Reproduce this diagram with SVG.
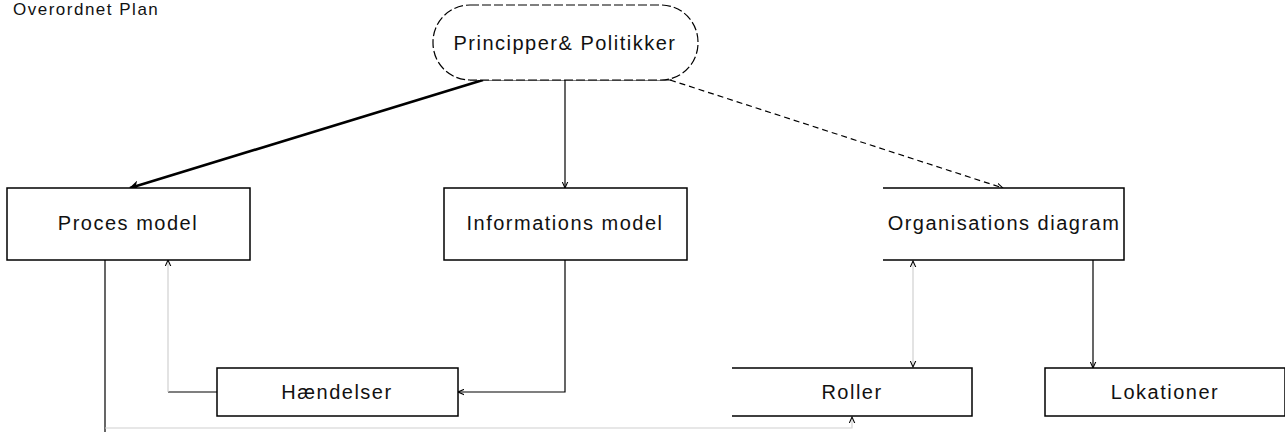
<svg xmlns="http://www.w3.org/2000/svg" width="1285" height="432" viewBox="0 0 1285 432">
  <style>
    .box { fill: #ffffff; stroke: #000000; stroke-width: 1.5; }
    .label { font-family: "Liberation Sans", Arial, sans-serif; font-size: 20px; letter-spacing: 1.5px; fill: #111111; text-anchor: middle; }
    .title { font-family: "Liberation Sans", Arial, sans-serif; font-size: 17px; letter-spacing: 1.5px; fill: #111111; }
    .edge { fill: none; stroke: #000000; stroke-width: 1.2; }
    .bold { fill: none; stroke: #000000; stroke-width: 2.6; }
    .faint { fill: none; stroke: #d0d0d0; stroke-width: 1.2; }
  </style>
  <defs>
    <marker id="arrow" viewBox="0 0 10 10" refX="9" refY="5" markerWidth="7" markerHeight="7" orient="auto-start-reverse" markerUnits="userSpaceOnUse">
      <path d="M0,1 L9,5 L0,9" fill="none" stroke="#000" stroke-width="1.5"/>
    </marker>
    <marker id="arrowBold" viewBox="0 0 10 10" refX="9" refY="5" markerWidth="10" markerHeight="10" orient="auto" markerUnits="userSpaceOnUse">
      <path d="M0,0 L10,5 L0,10 L3,5 Z" fill="#000"/>
    </marker>
  </defs>
  <rect width="1285" height="432" fill="#ffffff"/>

  <text class="title" x="13" y="15">Overordnet Plan</text>

  <g id="connectors">
    <!-- principles to process model (bold) -->
    <path class="bold" d="M483,80 L130,188" marker-end="url(#arrowBold)"/>
    <!-- principles to information model -->
    <path class="edge" d="M565,80 L565,188" marker-end="url(#arrow)"/>
    <!-- principles to organisation diagram (dashed) -->
    <path class="edge" d="M670,80 L1003,188" stroke-dasharray="6,4" marker-end="url(#arrow)"/>
    <!-- base line under stadium -->
    <path class="edge" d="M470,80 L672,80"/>
    <!-- information model to events -->
    <path class="edge" d="M565,260 L565,392 L458,392" marker-end="url(#arrow)"/>
    <!-- events to process model -->
    <path class="edge" d="M217,392 L168,392"/>
    <path class="faint" d="M168,392 L168,260" marker-end="url(#arrow)"/>
    <!-- process model down and across to roles -->
    <path class="edge" d="M105,260 L105,432"/>
    <path class="faint" d="M105,428 L852,428 L852,417" marker-end="url(#arrow)"/>
    <!-- organisation diagram to roles (two-way) -->
    <path class="faint" d="M913,261 L913,367" marker-start="url(#arrow)" marker-end="url(#arrow)"/>
    <!-- organisation diagram to locations -->
    <path class="edge" d="M1093,260 L1093,368" marker-end="url(#arrow)"/>
  </g>

  <g id="principper">
    <rect x="433" y="5" width="265" height="75" rx="37" ry="37" fill="#ffffff" stroke="#000" stroke-width="1.2" stroke-dasharray="9,3"/>
    <text class="label" x="565" y="50">Principper&amp; Politikker</text>
  </g>

  <g id="procesmodel">
    <rect class="box" x="7" y="188" width="243" height="72"/>
    <text class="label" x="128" y="230">Proces model</text>
  </g>

  <g id="informationsmodel">
    <rect class="box" x="444" y="188" width="243" height="72"/>
    <text class="label" x="565" y="230">Informations model</text>
  </g>

  <g id="organisationsdiagram">
    <path class="box" d="M883,188 L1124,188 L1124,260 L883,260"/>
    <text class="label" x="1004" y="230">Organisations diagram</text>
  </g>

  <g id="haendelser">
    <rect class="box" x="217" y="368" width="241" height="48"/>
    <text class="label" x="337" y="399">Hændelser</text>
  </g>

  <g id="roller">
    <path class="box" d="M732,368 L972,368 L972,416 L732,416"/>
    <text class="label" x="852" y="399">Roller</text>
  </g>

  <g id="lokationer">
    <rect class="box" x="1045" y="368" width="240" height="48"/>
    <text class="label" x="1165" y="399">Lokationer</text>
  </g>
</svg>
